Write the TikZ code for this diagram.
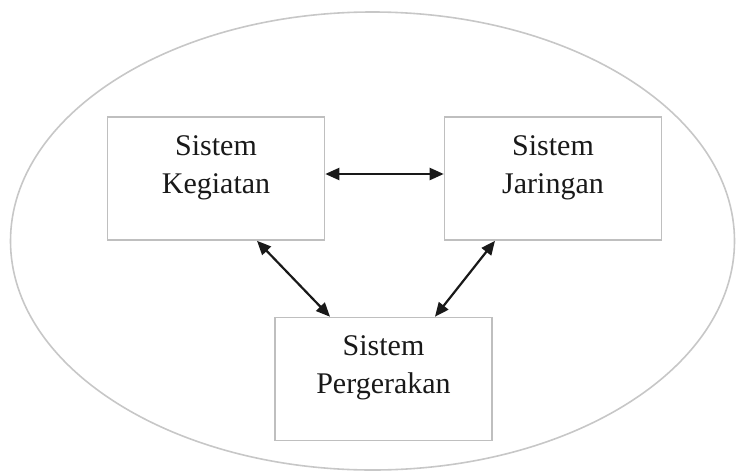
\documentclass[tikz,border=0pt]{standalone}
\usepackage{fontspec}
\setmainfont{Liberation Serif}
\usetikzlibrary{arrows.meta}
\begin{document}
\begin{tikzpicture}[x=1pt,y=-1pt,
  box/.style={draw=black!25, line width=1.6pt, minimum width=217pt, minimum height=123pt, inner sep=0pt},
  lbl/.style={font=\fontsize{30}{38}\selectfont, align=center, text=black!90, inner sep=0pt, anchor=north},
  arr/.style={{Triangle[length=14pt,width=12pt]}-{Triangle[length=14pt,width=12pt]}, line width=2.2pt, black!90}]
\useasboundingbox (0,0) rectangle (738,474);
\draw[black!22, line width=1.6pt] (372.5,241) ellipse [x radius=362, y radius=229];
\node[box] (b1) at (216,178.5) {};
\node[box] (b2) at (553,178.5) {};
\node[box] (b3) at (383.5,379) {};
\node[lbl] (t1) at ([yshift=-19pt]b1.north) {Sistem\\Kegiatan};
\node[lbl] (t2) at ([yshift=-19pt]b2.north) {Sistem\\Jaringan};
\node[lbl] (t3) at ([yshift=-19pt]b3.north) {Sistem\\Pergerakan};
\draw[arr] ([yshift=4.5pt]b1.east) -- ([yshift=4.5pt]b2.west);
\draw[arr] ([xshift=41pt]b1.south) -- ([xshift=-53.5pt]b3.north);
\draw[arr] ([xshift=-58pt]b2.south) -- ([xshift=51.5pt]b3.north);
\end{tikzpicture}
\end{document}
